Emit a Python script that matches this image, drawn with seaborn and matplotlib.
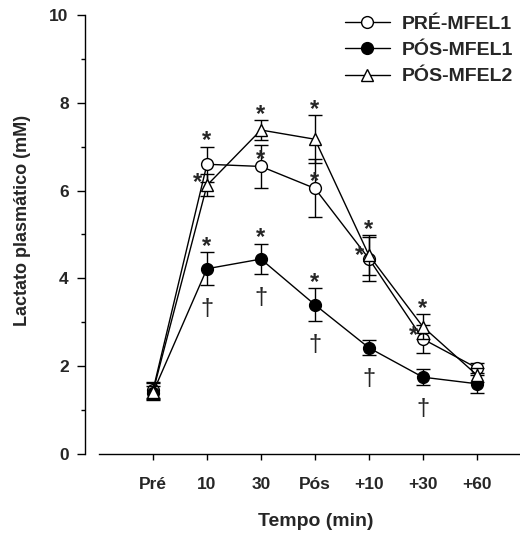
import numpy as np
import pandas as pd
import matplotlib
matplotlib.use("Agg")
import matplotlib.pyplot as plt
from matplotlib.ticker import MultipleLocator
import seaborn as sns

# Time points (x axis categories)
time_labels = ["Pré", "10", "30", "Pós", "+10", "+30", "+60"]

# Plasma lactate (mM), mean and SEM per condition
pre_mfel1 = [1.45, 6.60, 6.55, 6.05, 4.45, 2.62, 1.96]
pre_mfel1_err = [0.18, 0.40, 0.50, 0.66, 0.50, 0.32, 0.12]

pos_mfel1 = [1.40, 4.22, 4.44, 3.40, 2.42, 1.75, 1.60]
pos_mfel1_err = [0.15, 0.38, 0.35, 0.37, 0.17, 0.18, 0.20]

pos_mfel2 = [1.42, 6.12, 7.38, 7.17, 4.53, 2.90, 1.80]
pos_mfel2_err = [0.20, 0.25, 0.22, 0.55, 0.45, 0.28, 0.15]

series_names = ["PRÉ-MFEL1", "PÓS-MFEL1", "PÓS-MFEL2"]

# significance marks: (series, time index, placement)
star_marks = [
    ("PRÉ-MFEL1", 1, "above"), ("PÓS-MFEL2", 1, "left"), ("PÓS-MFEL1", 1, "above"),
    ("PÓS-MFEL2", 2, "above"), ("PRÉ-MFEL1", 2, "over"), ("PÓS-MFEL1", 2, "above"),
    ("PÓS-MFEL2", 3, "above"), ("PRÉ-MFEL1", 3, "over"), ("PÓS-MFEL1", 3, "above"),
    ("PÓS-MFEL2", 4, "above"), ("PRÉ-MFEL1", 4, "left"),
    ("PÓS-MFEL2", 5, "above"), ("PRÉ-MFEL1", 5, "left"),
]
dagger_idx = [1, 2, 3, 4, 5]

sns.set_style("ticks")
plt.rcParams["font.family"] = ["Liberation Sans", "DejaVu Sans"]
plt.rcParams["font.weight"] = "bold"

frames = []
for name, m, e in [(series_names[0], pre_mfel1, pre_mfel1_err),
                   (series_names[1], pos_mfel1, pos_mfel1_err),
                   (series_names[2], pos_mfel2, pos_mfel2_err)]:
    frames.append(pd.DataFrame({"pos": np.arange(len(time_labels)), "mean": m,
                                "sem": e, "grupo": name}))
df = pd.concat(frames, ignore_index=True)

styles = {
    "PRÉ-MFEL1": dict(marker="o", mfc="white", ms=8.5, z=3),
    "PÓS-MFEL1": dict(marker="o", mfc="black", ms=8.5, z=4),
    "PÓS-MFEL2": dict(marker="^", mfc="white", ms=9.0, z=5),
}

fig = plt.figure(figsize=(5.2, 5.33), dpi=100)
ax = fig.add_axes([99 / 520, 79 / 533, 421 / 520, 439 / 533])

for name in series_names:
    d = df[df["grupo"] == name]
    st = styles[name]
    ax.errorbar(d["pos"], d["mean"], yerr=d["sem"], fmt="none", ecolor="black",
                elinewidth=1.0, capsize=5, capthick=1.0, zorder=st["z"] - 0.5)
    sns.lineplot(data=d, x="pos", y="mean", ax=ax, sort=False, color="black",
                 linewidth=1.0, marker=st["marker"], markersize=st["ms"],
                 markerfacecolor=st["mfc"], markeredgecolor="black",
                 markeredgewidth=1.0, label=name, zorder=st["z"])

lookup = {n: (np.array(m), np.array(e)) for n, m, e in
          [(series_names[0], pre_mfel1, pre_mfel1_err),
           (series_names[1], pos_mfel1, pos_mfel1_err),
           (series_names[2], pos_mfel2, pos_mfel2_err)]}

px = 72 / fig.dpi  # points per pixel
for name, i, mode in star_marks:
    m, e = lookup[name]
    if mode == "above":
        xy, off = (i, m[i] + e[i]), (0, 6)
    elif mode == "over":
        xy, off = (i, m[i]), (0, 7)
    else:
        xy, off = (i, m[i]), (-9, 3)
    ax.annotate("*", xy=xy, xytext=(off[0] * px, off[1] * px), textcoords="offset points",
                ha="center", va="center", fontsize=17, fontweight="bold", zorder=6)

m, e = lookup["PÓS-MFEL1"]
for i in dagger_idx:
    ax.annotate("†", xy=(i, m[i] - e[i]), xytext=(0, -24 * px), textcoords="offset points",
                ha="center", va="center", fontsize=17, fontweight="normal", zorder=6)

ax.set_xlim(-1, 6.8)
ax.set_ylim(0, 10)
ax.set_xticks(range(len(time_labels)))
ax.set_xticklabels(time_labels)
ax.yaxis.set_major_locator(MultipleLocator(2))
ax.yaxis.set_minor_locator(MultipleLocator(1))

sns.despine(ax=ax)
ax.spines["left"].set_position(("outward", 14 * px))
ax.spines["left"].set_bounds(0, 10)
for s in ("left", "bottom"):
    ax.spines[s].set_linewidth(1.0)
    ax.spines[s].set_color("black")

ax.tick_params(axis="x", which="major", direction="out", length=6 * px, width=1,
               color="black", labelsize=12.5, pad=12)
ax.tick_params(axis="y", which="major", direction="out", length=8 * px, width=1,
               color="black", labelsize=12.5, pad=6)
ax.tick_params(axis="y", which="minor", direction="out", length=4 * px, width=1, color="black")
for lab in ax.get_xticklabels() + ax.get_yticklabels():
    lab.set_fontweight("bold")

ax.set_xlabel("Tempo (min)", fontsize=14, fontweight="bold", labelpad=15, x=0.516)
ax.set_ylabel("Lactato plasmático (mM)", fontsize=13, fontweight="bold", labelpad=13, y=0.533)

leg = ax.legend(frameon=False, loc="upper left", bbox_to_anchor=(345 / 520, 1 - 15 / 533),
                bbox_transform=fig.transFigure, borderpad=0, borderaxespad=0,
                handlelength=2.3, handletextpad=0.6, labelspacing=0.45,
                prop={"weight": "bold", "size": 14})

fig.savefig("out.png", dpi=100)
